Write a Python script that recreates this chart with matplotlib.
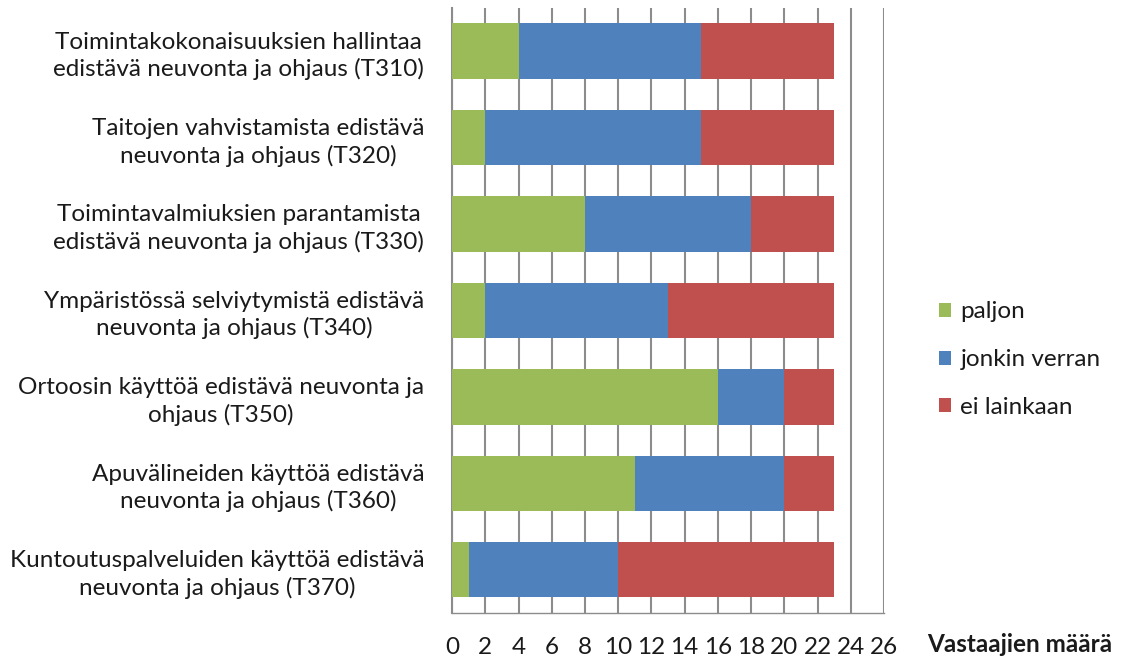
import numpy as np
import matplotlib.pyplot as plt

# data
categories = [
    "Toimintakokonaisuuksien hallintaa\nedistävä neuvonta ja ohjaus (T310)",
    "Taitojen vahvistamista edistävä\nneuvonta ja ohjaus (T320)",
    "Toimintavalmiuksien parantamista\nedistävä neuvonta ja ohjaus (T330)",
    "Ympäristössä selviytymistä edistävä\nneuvonta ja ohjaus (T340)",
    "Ortoosin käyttöä edistävä neuvonta ja\nohjaus (T350)",
    "Apuvälineiden käyttöä edistävä\nneuvonta ja ohjaus (T360)",
    "Kuntoutuspalveluiden käyttöä edistävä\nneuvonta ja ohjaus (T370)",
]
paljon = [4, 2, 8, 2, 16, 11, 1]
jonkin_verran = [11, 13, 10, 11, 4, 9, 9]
ei_lainkaan = [8, 8, 5, 10, 3, 3, 13]
series_names = ["paljon", "jonkin verran", "ei lainkaan"]
colors = ["#9BBB59", "#4F81BD", "#C0504D"]
xticks = list(range(0, 27, 2))

plt.rcParams['font.family'] = ['Lato', 'DejaVu Sans']
txt = "#1a1a1a"
fs = 17.5

fig = plt.figure(figsize=(11.29, 6.61), dpi=100)
ax = fig.add_axes([0.4004, 0.0726, 0.3826, 0.9154])

y = np.arange(len(categories))
left = np.zeros(len(categories))
for vals, name, c in zip([paljon, jonkin_verran, ei_lainkaan], series_names, colors):
    ax.barh(y, vals, left=left, height=0.64, color=c, label=name, zorder=3)
    left += np.array(vals)

ax.set_xlim(0, 26)
ax.set_ylim(len(categories) - 0.5, -0.5)
ax.set_xticks(xticks)
ax.set_xticklabels([str(t) for t in xticks], fontsize=fs, color=txt)
ax.tick_params(axis='x', length=0, pad=17)
ax.set_yticks(y)
ax.set_yticklabels(categories, fontsize=fs, color=txt, multialignment='center',
                   linespacing=1.3)
ax.tick_params(axis='y', length=0, pad=20)
ax.xaxis.grid(True, color="#8c8c8c", linewidth=1.5, zorder=0)
for s in ["top", "right"]:
    ax.spines[s].set_visible(False)
ax.spines["left"].set_color("#8c8c8c")
ax.spines["left"].set_linewidth(1.5)
ax.spines["bottom"].set_color("#8c8c8c")
ax.spines["bottom"].set_linewidth(1.0)

fig.text(0.821, 0.013, "Vastaajien määrä", fontsize=fs, fontweight='bold', color=txt)

leg = fig.legend(loc='upper left', bbox_to_anchor=(0.812, 0.577), frameon=False,
                 fontsize=fs, handlelength=0.5, handleheight=0.5,
                 handletextpad=0.4, labelspacing=1.1)
for t in leg.get_texts():
    t.set_color(txt)

plt.savefig("out.png", dpi=100)
